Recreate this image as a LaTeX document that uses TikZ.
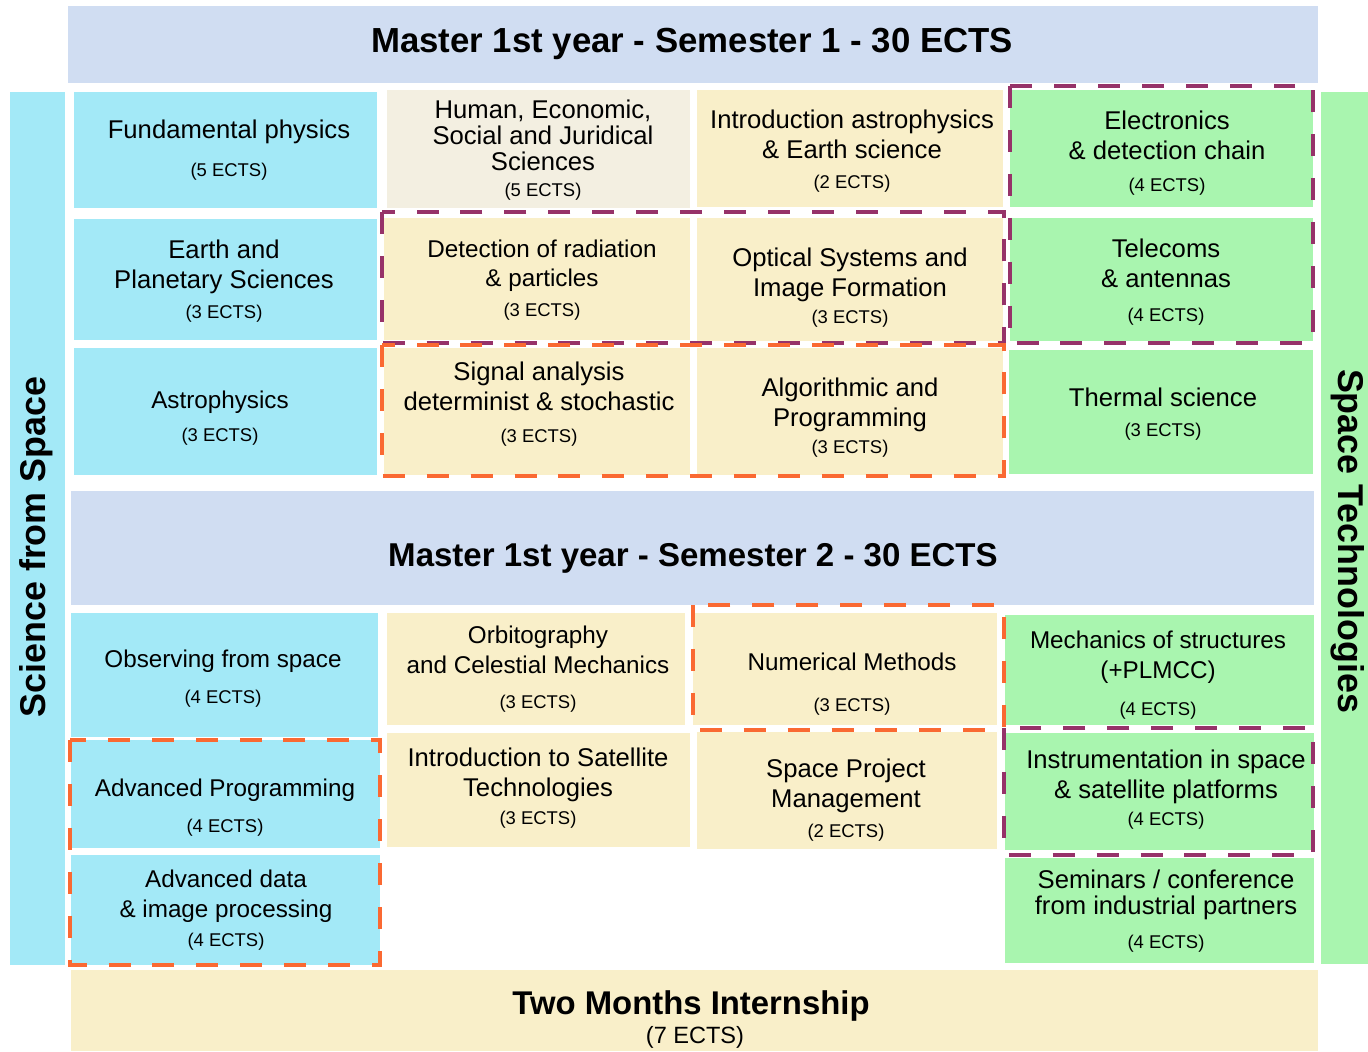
\documentclass[tikz,border=0pt]{standalone}
\usepackage{fontspec}
\setmainfont{Liberation Sans}

\definecolor{headblue}{RGB}{208,221,242}
\definecolor{sciblue}{RGB}{163,233,247}
\definecolor{techgreen}{RGB}{169,245,175}
\definecolor{commonyellow}{RGB}{249,239,201}
\definecolor{humanbeige}{RGB}{243,239,225}
\definecolor{dashpurple}{RGB}{150,50,105}
\definecolor{dashorange}{RGB}{250,105,50}

\newcommand{\ects}[1]{{\fontsize{10.5}{12}\selectfont(#1 ECTS)}}

\begin{document}
\begin{tikzpicture}[x=0.02cm, y=-0.02cm,
        every node/.style={align=center, inner sep=0pt, font=\fontsize{14.6}{17}\selectfont},
        smalltxt/.style={font=\fontsize{13.8}{17}\selectfont},
        title/.style={font=\fontsize{19.8}{22}\selectfont\bfseries},
        side/.style={font=\fontsize{20.4}{22}\selectfont\bfseries},
        purplebox/.style={draw=dashpurple, line width=2.4pt, dash pattern=on 12.5pt off 12.5pt},
        orangebox/.style={draw=dashorange, line width=2.4pt, dash pattern=on 12.5pt off 12.5pt}]
        \useasboundingbox (0,0) rectangle (1368,1051);

        % Semester 1 header
        \fill[headblue] (68,6) rectangle (1318,83);
        \node[title] (sem1) at (692,44) {Master 1st year - Semester 1 - 30 ECTS};

        % Side bars
        \fill[sciblue] (10,92) rectangle (65,965);
        \node[side, rotate=90] (scispace) at (36,547) {Science from Space};
        \fill[techgreen] (1321,92) rectangle (1368,964);
        \node[side, rotate=-90] (spacetech) at (1348,541) {Space Technologies};

        % First row
        \fill[sciblue] (74,92) rectangle (377,208);
        \node (fundphys) at (229,150) {Fundamental physics\\[5pt]\ects{5}};
        \fill[humanbeige] (387,90) rectangle (690,208);
        \node[font=\fontsize{14.6}{14.7}\selectfont] (humsci) at (543,150) {Human, Economic,\\Social and Juridical\\Sciences\\\ects{5}};
        \fill[commonyellow] (697,90) rectangle (1003,207);
        \node (introastro) at (852,151) {Introduction astrophysics\\\& Earth science\\\ects{2}};
        \fill[techgreen] (1010,90) rectangle (1313,207);
        \node (electro) at (1167,153) {Electronics\\\& detection chain\\[1.5pt]\ects{4}};

        % Second row
        \fill[sciblue] (74,219) rectangle (377,340);
        \node (earthplan) at (224,281) {Earth and\\Planetary Sciences\\\ects{3}};
        \fill[commonyellow] (384,218) rectangle (690,340);
        \node[smalltxt] (detection) at (542,280) {Detection of radiation\\\& particles\\\ects{3}};
        \fill[commonyellow] (697,218) rectangle (1003,341);
        \node (optical) at (850,288) {Optical Systems and\\Image Formation\\[-1.5pt]\ects{3}};
        \fill[techgreen] (1010,218) rectangle (1313,341);
        \node (telecom) at (1166,282) {Telecoms\\\& antennas\\[2pt]\ects{4}};

        % Third row
        \fill[sciblue] (74,348) rectangle (377,475);
        \node[smalltxt] (astro) at (220,418) {Astrophysics\\[2pt]\ects{3}};
        \fill[commonyellow] (384,348) rectangle (690,475);
        \node (signal) at (539,404) {Signal analysis\\determinist \& stochastic\\[1pt]\ects{3}};
        \fill[commonyellow] (697,348) rectangle (1003,475);
        \node (algo) at (850,418) {Algorithmic and\\Programming\\[-1.5pt]\ects{3}};
        \fill[techgreen] (1009,350) rectangle (1313,474);
        \node (thermal) at (1163,414) {Thermal science\\\ects{3}};

        % Dashed groups - semester 1
        \draw[purplebox] (382,212) rectangle (1004,343);
        \draw[purplebox] (1010,86) rectangle (1313,343);
        \draw[orangebox] (382,345) rectangle (1004,476);

        % Semester 2 header
        \fill[headblue] (71,491) rectangle (1314,605);
        \node[title, font=\fontsize{18.8}{22}\selectfont\bfseries] (sem2) at (693,558) {Master 1st year - Semester 2 - 30 ECTS};

        % Fourth row
        \fill[sciblue] (71,613) rectangle (378,737);
        \node[smalltxt] (observing) at (223,679) {Observing from space\\[3.5pt]\ects{4}};
        \fill[commonyellow] (387,613) rectangle (685,725);
        \node[smalltxt] (orbito) at (538,669) {Orbitography\\and Celestial Mechanics\\[3pt]\ects{3}};
        \fill[commonyellow] (693,613) rectangle (997,725);
        \node[smalltxt] (numeric) at (852,684) {Numerical Methods\\[6pt]\ects{3}};
        \fill[techgreen] (1005,615) rectangle (1314,725);
        \node[smalltxt] (mechanics) at (1158,675) {Mechanics of structures\\(+PLMCC)\\[4pt]\ects{4}};

        % Fifth row
        \fill[sciblue] (71,740) rectangle (380,848);
        \node[smalltxt] (advprog) at (225,808) {Advanced Programming\\[3.5pt]\ects{4}};
        \fill[commonyellow] (387,733) rectangle (690,847);
        \node (introsat) at (538,788) {Introduction to Satellite\\Technologies\\[-1pt]\ects{3}};
        \fill[commonyellow] (697,732) rectangle (997,849);
        \node (spaceproj) at (846,800) {Space Project\\Management\\\ects{2}};
        \fill[techgreen] (1005,733) rectangle (1314,850);
        \node (instrum) at (1166,790) {Instrumentation in space\\\& satellite platforms\\[-1.5pt]\ects{4}};

        % Sixth row
        \fill[sciblue] (71,855) rectangle (380,965);
        \node[smalltxt] (advdata) at (226,910) {Advanced data\\\& image processing\\[-0.5pt]\ects{4}};
        \fill[techgreen] (1005,858) rectangle (1314,963);
        \node (seminar) at (1166,911) {Seminars / conference\\[-2pt]from industrial partners\\[2.5pt]\ects{4}};

        % Dashed groups - semester 2
        \draw[orangebox] (693,605) rectangle (1004,730);
        \draw[orangebox] (70,740) rectangle (380,965);
        \draw[purplebox] (1004,728) rectangle (1313,855);

        % Internship
        \fill[commonyellow] (71,970) rectangle (1318,1051);
        \node[font=\fontsize{18.7}{21}\selectfont\bfseries] (intern) at (691,1006) {Two Months Internship};
        \node[font=\fontsize{13.4}{15}\selectfont] (internects) at (695,1037) {(7 ECTS)};
    \end{tikzpicture}
\end{document}
